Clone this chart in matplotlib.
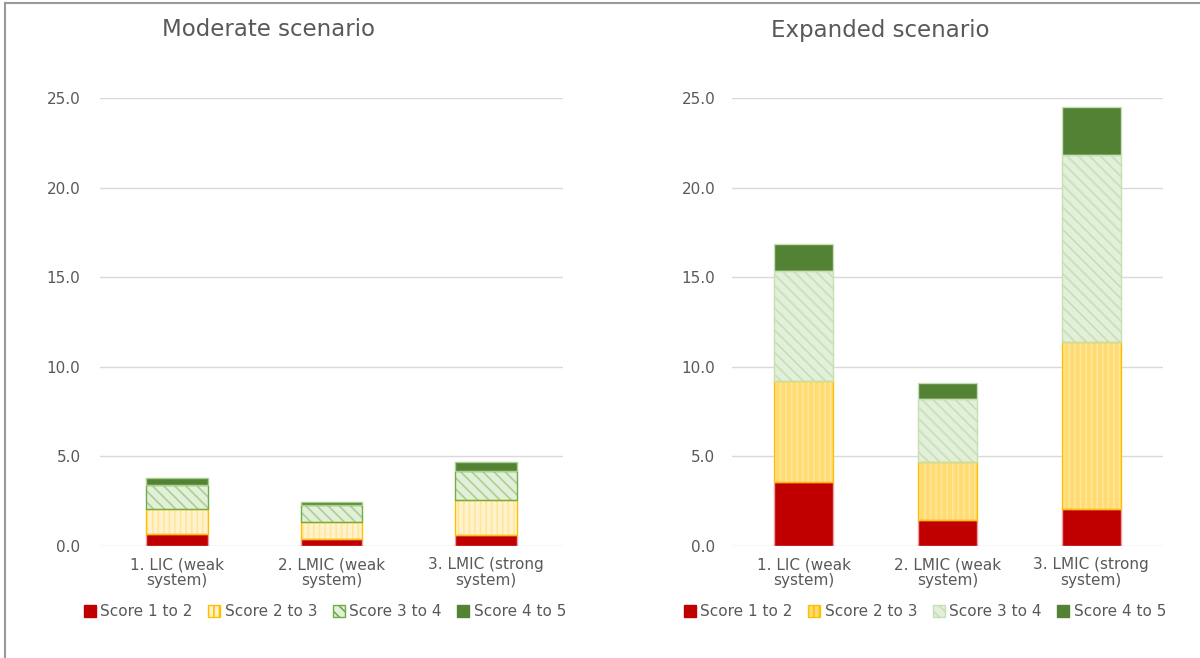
import matplotlib.pyplot as plt
import numpy as np
from matplotlib.patches import Patch
from matplotlib.lines import Line2D

categories = ["1. LIC (weak\nsystem)", "2. LMIC (weak\nsystem)", "3. LMIC (strong\nsystem)"]
series_names = ["Score 1 to 2", "Score 2 to 3", "Score 3 to 4", "Score 4 to 5"]

moderate_s12 = [0.67, 0.37, 0.62]
moderate_s23 = [1.40, 0.95, 1.95]
moderate_s34 = [1.32, 0.95, 1.64]
moderate_s45 = [0.41, 0.21, 0.49]

expanded_s12 = [3.59, 1.45, 2.06]
expanded_s23 = [5.63, 3.25, 9.30]
expanded_s34 = [6.12, 3.50, 10.48]
expanded_s45 = [1.52, 0.87, 2.63]

yticks = [0, 5, 10, 15, 20, 25]

TXT = "#595959"
plt.rcParams['hatch.linewidth'] = 1.2

# (face, hatch colour, hatch, edge) per series for each panel
moderate_styles = [
    ("#C00000", "#C00000", None, "#E6A0A0"),
    ("#FFF2CC", "#FFE699", "|||", "#FFC000"),
    ("#E2EFDA", "#A9D08E", "\\\\\\", "#70AD47"),
    ("#548235", "#548235", None, "#A9D08E"),
]
expanded_styles = [
    ("#C00000", "#C00000", None, "#E6A0A0"),
    ("#FFDC73", "#FFE699", "|||", "#FFC000"),
    ("#E2EFDA", "#C6E0B4", "\\\\\\", "#C6E0B4"),
    ("#548235", "#548235", None, "#C6E0B4"),
]


def draw(ax, data, styles, width, ypad, legend_x):
    x = np.arange(len(categories))
    bottom = np.zeros(len(categories))
    for vals, (face, hcol, hatch, edge) in zip(data, styles):
        vals = np.array(vals)
        ax.bar(x, vals, width, bottom=bottom, color=face, edgecolor=hcol,
               hatch=hatch, linewidth=0, zorder=2)
        ax.bar(x, vals, width, bottom=bottom, fill=False, edgecolor=edge,
               linewidth=1, zorder=3)
        bottom += vals
    ax.set_xlim(-0.5, len(categories) - 0.5)
    ax.set_ylim(0, 25)
    ax.set_yticks(yticks)
    ax.set_yticklabels(["{:.1f}".format(v) for v in yticks])
    ax.set_xticks(x)
    ax.set_xticklabels(categories, linespacing=1.1)
    ax.tick_params(axis='both', length=0, colors=TXT, labelsize=11)
    ax.tick_params(axis='y', pad=ypad)
    ax.tick_params(axis='x', pad=8)
    for s in ax.spines.values():
        s.set_visible(False)
    ax.grid(axis='y', color="#D9D9D9", linewidth=1, zorder=0)
    ax.set_axisbelow(True)

    handles = []
    for (f, hc, h, e) in styles:
        if h:
            handles.append(Patch(facecolor=f, edgecolor=e, hatch=h))
        else:
            handles.append(Patch(facecolor=f, edgecolor=f))
    fig.legend(handles, series_names, loc='center', bbox_to_anchor=(legend_x, 1 - 612 / 658),
               ncol=4, frameon=False, fontsize=11, labelcolor=TXT,
               handlelength=0.8, handleheight=0.8, handletextpad=0.3,
               columnspacing=1.0)


fig = plt.figure(figsize=(12, 6.58), dpi=100)
ax1 = fig.add_axes([100 / 1200, 1 - 546 / 658, 463 / 1200, 448 / 658])
ax2 = fig.add_axes([732 / 1200, 1 - 546 / 658, 431 / 1200, 448 / 658])

draw(ax1, [moderate_s12, moderate_s23, moderate_s34, moderate_s45],
     moderate_styles, 0.4, 14, 325 / 1200)
draw(ax2, [expanded_s12, expanded_s23, expanded_s34, expanded_s45],
     expanded_styles, 0.41, 12, 925 / 1200)

fig.text(268 / 1200, 1 - 30 / 658, "Moderate scenario", ha='center', va='center',
         fontsize=16.5, color=TXT)
fig.text(880 / 1200, 1 - 30 / 658, "Expanded scenario", ha='center', va='center',
         fontsize=16.5, color=TXT)

# outer frame (left and top edges visible)
fig.add_artist(Line2D([5 / 1200, 5 / 1200], [0, 1 - 3 / 658], color="#9A9A9A", linewidth=1.5))
fig.add_artist(Line2D([5 / 1200, 1], [1 - 3 / 658, 1 - 3 / 658], color="#9A9A9A", linewidth=1.5))

fig.savefig("out.png", dpi=100)
